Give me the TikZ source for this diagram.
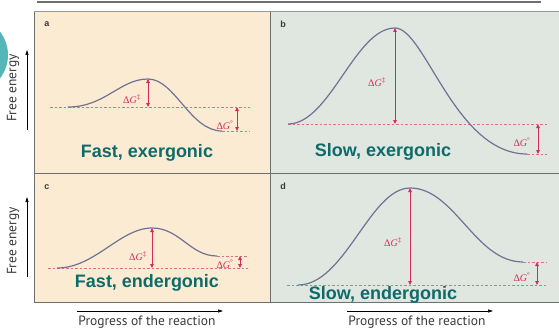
\documentclass[tikz,border=0pt]{standalone}
\usepackage{fontspec}
\setsansfont{Liberation Sans}
\newfontfamily\axisfont{PT Sans}
\newfontfamily\dgfont{Liberation Serif}
\usetikzlibrary{arrows.meta, positioning, calc}
\definecolor{fePeach}{HTML}{FCEBD3}
\definecolor{feSage}{HTML}{DFE7E0}
\definecolor{feFrame}{HTML}{6E6E6E}
\definecolor{feCurve}{HTML}{6E7393}
\definecolor{feRed}{HTML}{D42A5A}
\definecolor{feDash}{HTML}{DB7088}
\definecolor{feTeal}{HTML}{0E6B6A}
\definecolor{feRing}{HTML}{55B6B9}
\definecolor{feInk}{HTML}{3A3A3A}
\newcommand{\dgact}{{\dgfont Δ\textit{G}\textsuperscript{‡}}}
\newcommand{\dgstd}{{\dgfont Δ\textit{G}\textsuperscript{°}}}

\begin{document}
\begin{tikzpicture}[x=1pt, y=-1pt,
    energycurve/.style={draw=feCurve, line width=1.2pt},
    levelline/.style={draw=feDash, line width=1pt, dash pattern=on 2.5pt off 2pt},
    dgarrow/.style={draw=feRed, line width=0.8pt,
      {Triangle[length=4pt, width=3.5pt]}-{Triangle[length=4pt, width=3.5pt]}},
    dglabel/.style={text=feRed, font=\fontsize{10}{11}\selectfont, inner sep=0pt},
    captiontext/.style={text=feTeal, font=\sffamily\bfseries\fontsize{18}{20}\selectfont, inner sep=0pt},
    panellabel/.style={text=feInk, font=\sffamily\bfseries\fontsize{9}{10}\selectfont, inner sep=0pt},
    axislabel/.style={text=feInk, font=\axisfont\fontsize{13.5}{15}\selectfont, inner sep=0pt},
    axisarrow/.style={draw=black, line width=0.6pt, -{Triangle[length=5pt, width=3pt]}}]
  \useasboundingbox (0,0) rectangle (559,329);

  % backdrop
  \begin{scope}
    \clip (0,0) rectangle (559,329);
    \fill[feRing] (-30,55) circle (38);
  \end{scope}
  \draw[feFrame, line width=1.6pt] (37,2) -- (541,2);
  \fill[fePeach] (34,12) rectangle (270,173);
  \fill[feSage] (270,12) rectangle (559,173);
  \fill[fePeach] (34,173) rectangle (270,302);
  \fill[feSage] (270,173) rectangle (559,302);
  \draw[feFrame!70, line width=1pt] (34,12) -- (559,12);
  \draw[feFrame, line width=1pt] (34,12) -- (34,302) -- (559,302);
  \draw[feFrame, line width=1pt] (34,173) -- (559,173);
  \draw[feFrame, line width=1pt] (270,12) -- (270,302);

  % panel a
  \node[panellabel] (la) at (47,24) {a};
  \coordinate (aStart) at (68,107);
  \coordinate (aPeak) at (148,79);
  \coordinate (aEnd) at (222,131);
  \coordinate (aStep) at (237,107);
  \draw[levelline] (50,107) -- (250,107);
  \draw[levelline] (aEnd) -- (250,131);
  \draw[energycurve] (aStart) .. controls (105,107) and (120,79) .. (aPeak)
    .. controls (175,79) and (190,131) .. (aEnd);
  \draw[dgarrow] (aPeak) -- (aPeak |- aStart);
  \draw[dgarrow] (aStep) -- (aStep |- aEnd);
  \node[dglabel] (aAct) at (132,99) {\dgact};
  \node[dglabel] (aStd) at (225,125) {\dgstd};
  \node[captiontext] (aCap) at (147,153) {Fast, exergonic};

  % panel b
  \node[panellabel] (lb) at (283,24) {b};
  \coordinate (bStart) at (288,124);
  \coordinate (bPeak) at (395,28);
  \coordinate (bEnd) at (527,154);
  \coordinate (bStep) at (538,124);
  \draw[levelline] (bStart) -- (547,124);
  \draw[levelline] (bEnd) -- (547,154);
  \draw[energycurve] (bStart) .. controls (330,124) and (355,28) .. (bPeak)
    .. controls (425,28) and (455,154) .. (bEnd);
  \draw[dgarrow] (bPeak) -- (bPeak |- bStart);
  \draw[dgarrow] (bStep) -- (bStep |- bEnd);
  \node[dglabel] (bAct) at (377,82) {\dgact};
  \node[dglabel] (bStd) at (522,142) {\dgstd};
  \node[captiontext] (bCap) at (383,152) {Slow, exergonic};

  % panel c
  \node[panellabel] (lc) at (47,187) {c};
  \coordinate (cStart) at (57,268);
  \coordinate (cPeak) at (152,228);
  \coordinate (cEnd) at (217,256);
  \coordinate (cStep) at (240,268);
  \draw[levelline] (48,268) -- (248,268);
  \draw[levelline] (cEnd) -- (248,256);
  \draw[energycurve] (cStart) .. controls (95,268) and (120,228) .. (cPeak)
    .. controls (180,228) and (190,256) .. (cEnd);
  \draw[dgarrow] (cPeak) -- (cPeak |- cStart);
  \draw[dgarrow] (cStep) -- (cStep |- cEnd);
  \node[dglabel] (cAct) at (138,256) {\dgact};
  \node[dglabel] (cStd) at (225,264) {\dgstd};
  \node[captiontext] (cCap) at (147,283) {Fast, endergonic};

  % panel d
  \node[panellabel] (ld) at (283,186) {d};
  \coordinate (dStart) at (298,285);
  \coordinate (dPeak) at (410,188);
  \coordinate (dEnd) at (523,262);
  \coordinate (dStep) at (537,285);
  \draw[levelline] (287,285) -- (547,285);
  \draw[levelline] (dEnd) -- (547,262);
  \draw[energycurve] (dStart) .. controls (345,285) and (370,188) .. (dPeak)
    .. controls (455,188) and (475,262) .. (dEnd);
  \draw[dgarrow] (dPeak) -- (dPeak |- dStart);
  \draw[dgarrow] (dStep) -- (dStep |- dEnd);
  \node[dglabel] (dAct) at (393,242) {\dgact};
  \node[dglabel] (dStd) at (522,277) {\dgstd};
  \node[captiontext] (dCap) at (383,295) {Slow, endergonic};

  % axes
  \coordinate (yTopFrom) at (27,130);
  \coordinate (yTopTo) at (27,50);
  \coordinate (yLowFrom) at (27,277);
  \coordinate (yLowTo) at (27,197);
  \coordinate (xLeftFrom) at (77,311);
  \coordinate (xLeftTo) at (223,311);
  \coordinate (xRightFrom) at (347,311);
  \coordinate (xRightTo) at (493,311);
  \draw[axisarrow] (yTopFrom) -- (yTopTo);
  \draw[axisarrow] (yLowFrom) -- (yLowTo);
  \draw[axisarrow] (xLeftFrom) -- (xLeftTo);
  \draw[axisarrow] (xRightFrom) -- (xRightTo);
  \node[axislabel, rotate=90] (yTop) at (13,88) {Free energy};
  \node[axislabel, rotate=90] (yLow) at (13,241) {Free energy};
  \node[axislabel] (xLeft) at (147,322) {Progress of the reaction};
  \node[axislabel] (xRight) at (417,322) {Progress of the reaction};
\end{tikzpicture}
\end{document}
